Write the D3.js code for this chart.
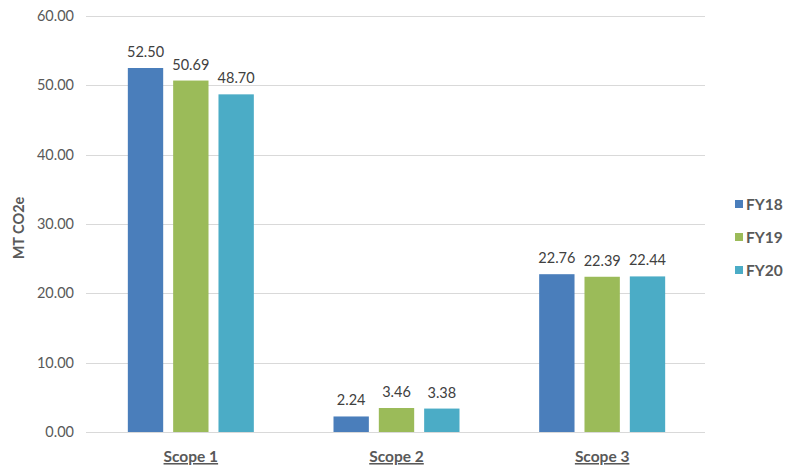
<!DOCTYPE html>
<html><head><meta charset="utf-8">
<script src="https://cdn.jsdelivr.net/npm/d3@7"></script>
<style>body{margin:0;background:#fff;}svg{display:block;font-family:Lato,"Open Sans",sans-serif;}</style>
</head><body>
<svg id="c" width="787" height="468"></svg>
<script>
const categories = ["Scope 1", "Scope 2", "Scope 3"];
const seriesNames = ["FY18", "FY19", "FY20"];
const fy18 = [52.50, 2.24, 22.76];
const fy19 = [50.69, 3.46, 22.39];
const fy20 = [48.70, 3.38, 22.44];
const yTicks = [0, 10, 20, 30, 40, 50, 60];
const colors = ["#4a7ebb", "#9bbb59", "#4bacc6"];
const seriesVals = [fy18, fy19, fy20];

(function () {
const svg = d3.select("#c");
const pLeft = 88, pRight = 705, pTop = 16, pBottom = 432;
const x = d3.scaleBand().domain(categories).range([pLeft, pRight]).paddingInner(0).paddingOuter(0);
const y = d3.scaleLinear().domain([0, 60]).range([pBottom, pTop]);
const xs = d3.scaleBand().domain(seriesNames).range([0, 126]).paddingInner(0.22).paddingOuter(0);

svg.append("g").selectAll("line").data(yTicks).join("line")
  .attr("x1", pLeft - 2).attr("x2", pRight)
  .attr("y1", d => Math.round(y(d)) + 0.5).attr("y2", d => Math.round(y(d)) + 0.5)
  .attr("stroke", "#d9d9d9").attr("stroke-width", 1);

const yAxis = d3.axisLeft(y).tickValues(yTicks).tickFormat(d3.format(".2f")).tickSize(0).tickPadding(14);
const ga = svg.append("g").attr("transform", `translate(${pLeft},0)`).call(yAxis);
ga.select(".domain").remove();
ga.selectAll("text").attr("fill", "#595959").style("font-size", "14.5px").style("font-family", "Lato, 'Open Sans', sans-serif");

const groups = svg.append("g").selectAll("g").data(categories).join("g")
  .attr("transform", d => `translate(${x(d) + (x.bandwidth() - 126) / 2},0)`);
seriesNames.forEach((s, si) => {
  groups.append("rect")
    .attr("x", xs(s)).attr("width", xs.bandwidth())
    .attr("y", (d, i) => y(seriesVals[si][i]))
    .attr("height", (d, i) => pBottom - y(seriesVals[si][i]))
    .attr("fill", colors[si]);
  groups.append("text")
    .attr("x", xs(s) + xs.bandwidth() / 2)
    .attr("y", (d, i) => y(seriesVals[si][i]) - 11)
    .attr("text-anchor", "middle").attr("fill", "#404040").style("font-size", "14.5px")
    .text((d, i) => seriesVals[si][i].toFixed(2));
});

svg.append("g").selectAll("text").data(categories).join("text")
  .attr("x", d => x(d) + x.bandwidth() / 2).attr("y", 462)
  .attr("text-anchor", "middle").attr("fill", "#595959")
  .style("font-size", "15.5px").style("font-weight", "bold").style("text-decoration", "underline")
  .text(d => d);

svg.append("text").attr("transform", "translate(24,228) rotate(-90)")
  .attr("text-anchor", "middle").attr("fill", "#595959")
  .style("font-size", "14.5px").style("font-weight", "bold").text("MT CO2e");

const lg = svg.append("g").selectAll("g").data(seriesNames).join("g")
  .attr("transform", (d, i) => `translate(735,${204 + i * 33})`);
lg.append("rect").attr("x", 0).attr("y", -4).attr("width", 8).attr("height", 8).attr("fill", (d, i) => colors[i]);
lg.append("text").attr("x", 11).attr("y", 0).attr("dy", "0.36em").attr("fill", "#595959")
  .style("font-size", "15.5px").style("font-weight", "bold").text(d => d);
})();
</script>
</body></html>
